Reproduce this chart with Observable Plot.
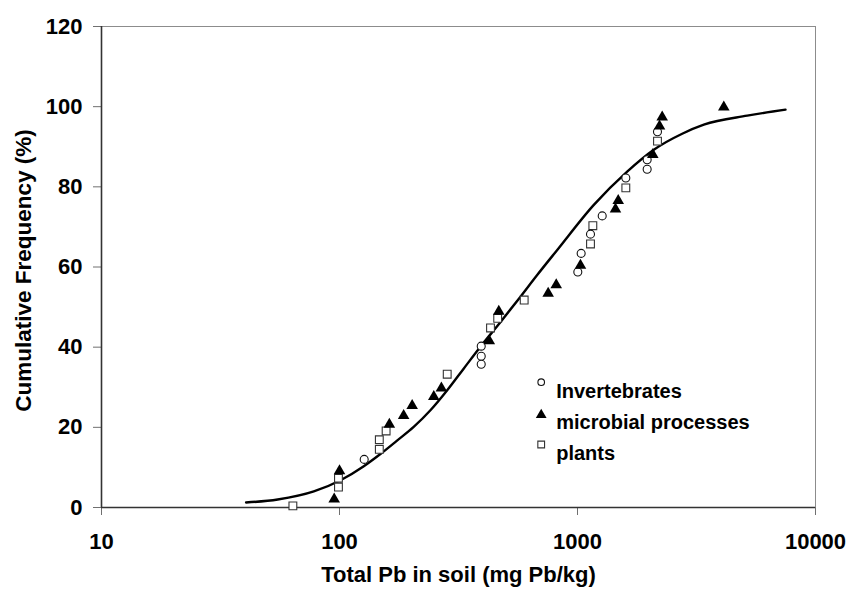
<!DOCTYPE html>
<html>
<head>
<meta charset="utf-8">
<script src="https://cdn.jsdelivr.net/npm/d3@7"></script>
<script src="https://cdn.jsdelivr.net/npm/@observablehq/plot@0.6"></script>
<style>
  html, body { margin: 0; padding: 0; background: white; }
</style>
</head>
<body>
<div id="chart"></div>
<script>
// Data
const invertebrates = [
  [127, 12], [394, 40.25], [394, 37.75], [394, 35.75], [1003, 58.75], [1036, 63.4],
  [1134, 68.2], [1270, 72.75], [1596, 82.2], [1962, 86.75], [1962, 84.4], [2168, 93.75]
];
const microbial = [
  [95, 2.4], [100, 9.5], [162, 21.1], [186, 23.25], [202, 25.75], [249, 28], [268, 30.1],
  [426, 41.9], [467, 49.25], [753, 53.75], [814, 55.9], [1029, 60.75], [1444, 74.8],
  [1483, 76.9], [2072, 88.4], [2211, 95.5], [2269, 97.75], [4118, 100.25]
];
const plants = [
  [63.7, 0.4], [99, 5.1], [99, 7.3], [147, 14.5], [147, 16.9], [157, 19.1], [283.5, 33.25],
  [431, 44.8], [462, 47.2], [597, 51.75], [1134, 65.75], [1160, 70.3], [1596, 79.75], [2168, 91.4]
];
const curve = [
  [40.5, 1.25], [55, 2], [78, 4], [101, 6.8], [126.5, 10.3], [149, 13.4], [175, 16.75],
  [205, 20.1], [241, 24.25], [283.5, 29.25], [333, 34.7], [391, 40.1], [475, 46.3], [576, 52.6],
  [677, 58], [822, 64.25], [1171, 75.5], [1617, 83.8], [2092, 89.25], [2754, 93.25],
  [3395, 95.5], [5166, 97.75], [7482, 99.25]
];
const xTicks = [10, 100, 1000, 10000];
const yTicks = [0, 20, 40, 60, 80, 100, 120];
const legendLabels = ["Invertebrates", "microbial processes", "plants"];
const xTitle = "Total Pb in soil (mg Pb/kg)";
const yTitle = "Cumulative Frequency (%)";

const font = "'Liberation Sans', Arial, sans-serif";
const X = d => d[0], Y = d => d[1];

const chart = Plot.plot({
  width: 846,
  height: 594,
  marginLeft: 101,
  marginRight: 31,
  marginTop: 26,
  marginBottom: 87,
  x: {type: "log", domain: [10, 10000]},
  y: {domain: [0, 120]},
  style: {fontFamily: font, fontWeight: "bold", fontSize: "22px", background: "white", color: "black"},
  marks: [
    // frame top & right
    Plot.ruleY([120], {stroke: "#8c8c8c", strokeWidth: 1}),
    Plot.ruleX([10000], {stroke: "#8c8c8c", strokeWidth: 1}),
    // axes
    Plot.axisX({ticks: xTicks, tickFormat: d => String(d), tickSize: 8, tickPadding: 18,
      stroke: "#707070", fill: "black", label: null, fontSize: 22, fontWeight: "bold"}),
    Plot.axisY({ticks: yTicks, tickSize: 8, tickPadding: 11,
      stroke: "#707070", fill: "black", label: null, fontSize: 22, fontWeight: "bold"}),
    Plot.ruleY([0], {stroke: "#333", strokeWidth: 1.6}),
    Plot.ruleX([10], {stroke: "#333", strokeWidth: 1.6}),
    // fitted curve
    Plot.line(curve, {x: X, y: Y, stroke: "black", strokeWidth: 2.4, curve: "monotone-x"}),
    // data
    Plot.dot(plants, {x: X, y: Y, symbol: "square", r: 4.4, fill: "white", stroke: "#333", strokeWidth: 1.1}),
    Plot.dot(invertebrates, {x: X, y: Y, symbol: "circle", r: 4, fill: "white", stroke: "#111", strokeWidth: 1.1}),
    Plot.dot(microbial, {x: X, y: Y, symbol: "triangle", r: 4.3, fill: "black", stroke: "none", dy: 1.4}),
    // legend
    Plot.dot([0], {frameAnchor: "top-left", dx: 439.7, dy: 355.7, symbol: "circle", r: 3.3, fill: "white", stroke: "#111", strokeWidth: 1.1}),
    Plot.dot([0], {frameAnchor: "top-left", dx: 439.7, dy: 388.5, symbol: "triangle", r: 4, fill: "black", stroke: "none"}),
    Plot.dot([0], {frameAnchor: "top-left", dx: 439.7, dy: 418, symbol: "square", r: 3.8, fill: "white", stroke: "#333", strokeWidth: 1.1}),
    ...legendLabels.map((label, i) => Plot.text([label], {
      frameAnchor: "top-left", dx: 454.7, dy: [357.5, 388.1, 418.8][i],
      fontSize: 20, fontWeight: "bold", textAnchor: "start", fill: "black"
    })),
    // titles
    Plot.text([xTitle], {frameAnchor: "bottom", dy: 74.7, fontSize: 22, fontWeight: "bold", fill: "black"}),
    Plot.text([yTitle], {frameAnchor: "left", dx: -78, dy: 3.5, rotate: -90, textAnchor: "middle",
      fontSize: 22.5, fontWeight: "bold", fill: "black"})
  ]
});
document.getElementById("chart").appendChild(chart);
</script>
</body>
</html>
